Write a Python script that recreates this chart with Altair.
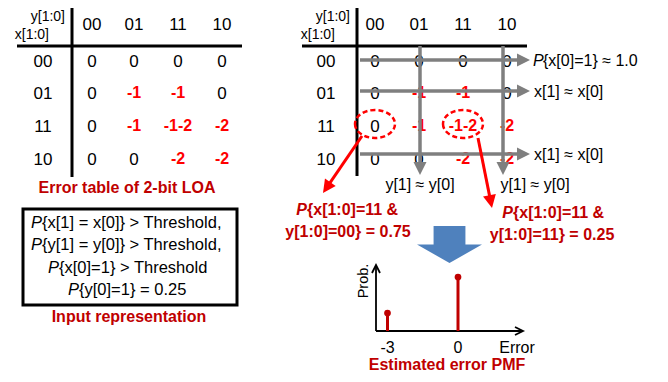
import math
import altair as alt
import pandas as pd

# ---------------- data ----------------
row_codes = ["00", "01", "11", "10"]
col_codes = ["00", "01", "11", "10"]
error_table = [
    ["0", "0", "0", "0"],
    ["0", "-1", "-1", "0"],
    ["0", "-1", "-1-2", "-2"],
    ["0", "0", "-2", "-2"],
]
row_axis_label = "x[1:0]"
col_axis_label = "y[1:0]"
table_title = "Error table of 2-bit LOA"

input_lines = [
    "{x[1] = x[0]} > Threshold,",
    "{y[1] = y[0]} > Threshold,",
    "{x[0]=1} > Threshold",
    "{y[0]=1} = 0.25",
]
input_title = "Input representation"

row_arrow_rows = ["00", "01", "10"]
row_arrow_labels = ["{x[0]=1} \u2248 1.0", "x[1] \u2248 x[0]", "x[1] \u2248 x[0]"]
row_arrow_italic_p = [True, False, False]
col_arrow_cols = ["01", "10"]
col_arrow_labels = ["y[1] \u2248 y[0]", "y[1] \u2248 y[0]"]

joint_first = ["{x[1:0]=11 &", "{x[1:0]=11 &"]
joint_second = ["y[1:0]=00} = 0.75", "y[1:0]=11} = 0.25"]

pmf_error = [-3, 0]
pmf_prob = [0.25, 0.75]
pmf_xlabel = "Error"
pmf_ylabel = "Prob."
pmf_title = "Estimated error PMF"

# ---------------- layout (image pixel space) ----------------
FONT = "Liberation Sans"
DARKRED = "#c00000"
RED = "#ff0000"
GRAY = "#7f7f7f"
BLUE = "#4f81bd"

PAD = 0
W, H = 652 - 2 * PAD, 366 - 2 * PAD
X0, Y0 = 8 + PAD, 8 + PAD

LX = [92, 134, 178, 222]
RX = [375, 419, 463, 507]
RY = [62, 94, 127, 160]
HEAD_Y = 25

xs = alt.Scale(domain=[X0, X0 + W], nice=False, zero=False)
ys = alt.Scale(domain=[Y0 + H, Y0], nice=False, zero=False)


def X(f="x"):
    return alt.X(f"{f}:Q", scale=xs, axis=None)


def Y(f="y"):
    return alt.Y(f"{f}:Q", scale=ys, axis=None)


def text_layer(rows, **kw):
    df = pd.DataFrame(rows, columns=["x", "y", "t"])
    base = dict(font=FONT, baseline="middle", align="center", fontSize=17, color="black")
    base.update(kw)
    return alt.Chart(df).mark_text(**base).encode(x=X(), y=Y(), text="t:N")


def rule_layer(segs, **kw):
    df = pd.DataFrame(segs, columns=["x", "y", "x2", "y2"])
    return alt.Chart(df).mark_rule(**kw).encode(
        x=X(), y=Y(), x2="x2:Q", y2="y2:Q")


def shape_layer(pts, path, size, **kw):
    df = pd.DataFrame(pts, columns=["x", "y", "a"])
    return alt.Chart(df).mark_point(shape=path, size=size, **kw).encode(
        x=X(), y=Y(), angle=alt.Angle("a:Q", scale=None))


UP = "M0,-1L1,1L-1,1Z"


def arrow(segs, color, width, head_r, head_path=UP):
    """segs: (x1,y1,xtip,ytip). returns line + head layers"""
    lines, heads = [], []
    for x1, y1, x2, y2 in segs:
        dx, dy = x2 - x1, y2 - y1
        L = math.hypot(dx, dy)
        ux, uy = dx / L, dy / L
        cx, cy = x2 - ux * head_r, y2 - uy * head_r
        lines.append((x1, y1, cx, cy))
        ang = math.degrees(math.atan2(ux, -uy)) % 360
        heads.append((cx, cy, ang))
    return [rule_layer(lines, color=color, strokeWidth=width),
            shape_layer(heads, head_path, (2 * head_r) ** 2,
                        filled=True, color=color, opacity=1, strokeWidth=0)]


layers = []

# ---- tables ----
for CX, yl_x, xl_x in [(LX, 65, 49), (RX, 350, 335)]:
    layers.append(text_layer([(yl_x, 17, col_axis_label), (xl_x, 35, row_axis_label)],
                             align="right", fontSize=14))
    layers.append(text_layer([(CX[j], HEAD_Y, c) for j, c in enumerate(col_codes)]))
    layers.append(text_layer([(CX[0] - 49, RY[i], r) for i, r in enumerate(row_codes)]))
    blk, red = [], []
    for i in range(4):
        for j in range(4):
            v = error_table[i][j]
            if v == "0":
                blk.append((CX[j], RY[i], v))
            else:
                red.append((CX[j], RY[i] - 1, v))
    layers.append(text_layer(blk))
    layers.append(text_layer(red, color=RED, fontWeight="bold", fontSize=16))

layers.append(rule_layer([(17, 46, 242, 46), (72, 8, 72, 177),
                          (302, 46, 527, 46), (357, 8, 357, 176)],
                         color="black", strokeWidth=3))
layers.append(text_layer([(127, 188, table_title)], color=DARKRED, fontWeight="bold", fontSize=16))

# ---- input representation box ----
box = pd.DataFrame([{"x": 23, "y": 209, "x2": 237, "y2": 305}])
layers.append(alt.Chart(box).mark_rect(filled=False, stroke="black", strokeWidth=3).encode(
    x=X(), y=Y(), x2="x2:Q", y2="y2:Q"))
in_x = [42, 42, 59, 79]
in_y = [223, 245, 268, 290]
layers.append(text_layer([(in_x[k], in_y[k], "P") for k in range(4)],
                         align="right", fontStyle="italic", fontSize=16.5))
layers.append(text_layer([(in_x[k], in_y[k], input_lines[k]) for k in range(4)],
                         align="left", fontSize=16.5))
layers.append(text_layer([(129, 317, input_title)], color=DARKRED, fontWeight="bold", fontSize=16))

# ---- gray arrows on right table ----
row_arrow_y = {"00": 60, "01": 91, "10": 154}
col_arrow_x = {"01": 420, "10": 503}
segs = [(360, row_arrow_y[r], 530, row_arrow_y[r]) for r in row_arrow_rows]
segs += [(col_arrow_x[c], 46, col_arrow_x[c], 175) for c in col_arrow_cols]
layers += arrow(segs, GRAY, 3.5, 6.5)

p_rows, rest_rows = [], []
for r, lab, ip in zip(row_arrow_rows, row_arrow_labels, row_arrow_italic_p):
    if ip:
        p_rows.append((533, row_arrow_y[r] + 1, "P"))
        rest_rows.append((543, row_arrow_y[r] + 1, lab))
    else:
        rest_rows.append((534, row_arrow_y[r] + 1, lab))
layers.append(text_layer(p_rows, align="left", fontStyle="italic", fontSize=16))
layers.append(text_layer(rest_rows, align="left", fontSize=16))
layers.append(text_layer([(col_arrow_x[c] + (0 if c == "01" else 32), 185, lab)
                          for c, lab in zip(col_arrow_cols, col_arrow_labels)], fontSize=16))

# ---- red dashed ellipses and arrows ----
ELL = "M-1,0A1,0.7 0 1,0 1,0A1,0.7 0 1,0 -1,0Z"
layers.append(shape_layer([(375, 124, 0), (463, 124, 0)], ELL, 40 ** 2,
                          filled=False, color=RED, opacity=1, strokeWidth=2.5,
                          strokeDash=[5, 3]))
layers += arrow([(362, 136, 323, 193), (478, 138, 492, 208)], RED, 3, 6.5)

jx_p = [307, 513]
jy1 = [210, 213]
jx2 = [348, 552]
jy2 = [232, 235]
layers.append(text_layer([(jx_p[k], jy1[k], "P") for k in range(2)], align="right",
                         fontStyle="italic", fontWeight="bold", color=DARKRED, fontSize=16))
layers.append(text_layer([(jx_p[k], jy1[k], joint_first[k]) for k in range(2)], align="left",
                         fontWeight="bold", color=DARKRED, fontSize=16))
layers.append(text_layer([(jx2[k], jy2[k], joint_second[k]) for k in range(2)],
                         fontWeight="bold", color=DARKRED, fontSize=16))

# ---- blue block arrow ----
BLOCK = "M-0.49,-0.57L0.49,-0.57L0.49,0L1,0L0,0.57L-1,0L-0.49,0Z"
layers.append(shape_layer([(449.5, 244.5, 0)], BLOCK, 65 ** 2, filled=True,
                          color=BLUE, opacity=1, strokeWidth=0))

# ---- PMF axes ----
layers.append(rule_layer([(376, 331, 376, 266), (376, 331, 522, 331)],
                         color="black", strokeWidth=1.8))
CHEV = "M-1,1L0,-1L1,1"
layers.append(shape_layer([(376, 269, 0), (519, 331, 90)], CHEV, 64,
                          filled=False, color="black", opacity=1, strokeWidth=1.8))
layers.append(text_layer([(517, 348, pmf_xlabel)], fontSize=16))
layers.append(text_layer([(364, 281, pmf_ylabel)], angle=270, fontSize=14.5))
layers.append(text_layer([(447, 365, pmf_title)], color=DARKRED, fontWeight="bold", fontSize=16))

diagram = alt.layer(*layers)

# ---- PMF stems through their own scales ----
ZERO_X, PX_PER_ERR = 458 - X0, 23.5
ZERO_Y, PX_PER_PROB = 331 - Y0, 72.0
ex = alt.Scale(domain=[-ZERO_X / PX_PER_ERR, (W - ZERO_X) / PX_PER_ERR], nice=False, zero=False)
py = alt.Scale(domain=[-(H - ZERO_Y) / PX_PER_PROB, ZERO_Y / PX_PER_PROB], nice=False, zero=False)
pmf_df = pd.DataFrame({"error": pmf_error, "prob": pmf_prob, "zero": [0.0] * len(pmf_error),
                       "lab": [str(e) for e in pmf_error], "ly": [-17 / PX_PER_PROB] * len(pmf_error)})
ex_enc = alt.X("error:Q", scale=ex, axis=None)
stems = alt.Chart(pmf_df).mark_rule(color=DARKRED, strokeWidth=3).encode(
    x=ex_enc, y=alt.Y("zero:Q", scale=py, axis=None), y2="prob:Q")
dots = alt.Chart(pmf_df).mark_point(filled=True, color=DARKRED, size=45, opacity=1).encode(
    x=ex_enc, y=alt.Y("prob:Q", scale=py, axis=None))
ticks = alt.Chart(pmf_df).mark_text(font=FONT, fontSize=16, color="black", baseline="middle").encode(
    x=ex_enc, y=alt.Y("ly:Q", scale=py, axis=None), text="lab:N")
pmf = alt.layer(stems, dots, ticks)

chart = alt.layer(diagram, pmf).resolve_scale(x="independent", y="independent").properties(
    width=W, height=H, padding=PAD, autosize="none"
).configure_view(stroke=None)

chart.save("out.html", embed_options={"renderer": "svg", "actions": False})
